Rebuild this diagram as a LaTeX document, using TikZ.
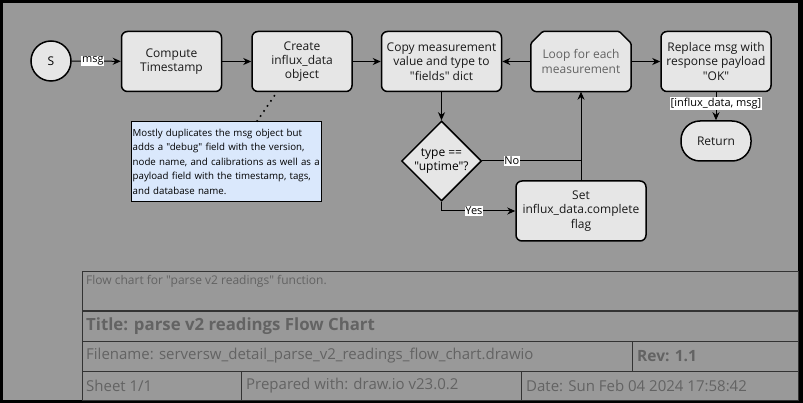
\documentclass[tikz,border=0pt]{standalone}
\usepackage{fontspec}
\newfontfamily\drawfont{Open Sans}
\usepackage{tikz}
\usetikzlibrary{calc,arrows.meta,shapes.geometric}
\definecolor{sheetgray}{HTML}{999999}
\definecolor{boxgray}{HTML}{E6E6E6}
\definecolor{notefill}{HTML}{DAE8FC}
\definecolor{inkgray}{HTML}{636363}
\definecolor{rulegray}{HTML}{333333}
\tikzset{
	proc/.style={draw, line width=1.5pt, fill=boxgray, rounded corners=6pt, minimum width=100pt, minimum height=60pt, align=center, inner sep=2pt, font=\drawfont\fontsize{12}{14.4}\selectfont, text=black!90},
	conn/.style={line width=1pt},
	arr/.style={conn, -{Stealth[length=8pt,width=7pt,inset=2.5pt]}},
	lbl/.style={fill=white, inner sep=0.6pt, font=\drawfont\fontsize{11}{12}\selectfont},
	blocktxt/.style={anchor=west, inner sep=0pt, text=inkgray, font=\drawfont\fontsize{15}{18}\selectfont}
}

\begin{document}
\begin{tikzpicture}[x=1pt, y=-1pt]
		%%%%% START %%%%%
		
		\fill[black] (0, 0) rectangle (803, 403);
		\fill[sheetgray] (3, 3) rectangle (798, 400);
		\useasboundingbox (0, 0) rectangle (803, 403);
		
		\node[circle, draw, line width=1.5pt, fill=boxgray, minimum size=40pt, inner sep=0pt, font=\drawfont\fontsize{12}{14.4}\selectfont] (start) at (51, 61) {S};
		\node[proc] (stamp) at (171.5, 61.5) {Compute\\Timestamp};
		\node[proc] (create) at (302, 61.5) {Create\\influx\_data\\object};
		\node[proc, minimum width=120pt] (copy) at (441.5, 61.5) {Copy measurement\\value and type to\\"fields" dict};
		\node[minimum width=100pt, minimum height=60pt, inner sep=0pt] (loop) at (581, 61.5) {};
		\node[proc, minimum width=110pt] (reply) at (716, 61.5) {Replace msg with\\response payload\\"OK"};
		\node[proc, minimum width=70pt, minimum height=40pt, rounded corners=19pt] (ret) at (716, 141) {Return};
		\node[diamond, draw, line width=1.5pt, fill=boxgray, minimum size=80pt, inner sep=-1pt, align=center, font=\drawfont\fontsize{12}{14.4}\selectfont] (uptime) at (441.5, 161) {type ==\\"uptime"?};
		\node[proc, minimum width=130pt] (setflag) at (581, 211) {Set\\influx\_data.complete\\flag};
		
		% loop limit outline, chamfered on top
		\filldraw[line width=1.5pt, fill=boxgray] ($(loop.north west)+(0, 12)$) [rounded corners=1.5pt] -- ($(loop.north west)+(12, 0)$) -- ($(loop.north east)+(-12, 0)$) -- ($(loop.north east)+(0, 12)$) [rounded corners=6pt] -- (loop.south east) -- (loop.south west) [rounded corners=1.5pt] -- cycle;
		\node[text=inkgray, align=center, font=\drawfont\fontsize{12}{14.4}\selectfont] (looptext) at (loop) {Loop for each\\measurement};
		
		\node[draw, line width=0.8pt, fill=notefill, minimum width=190pt, minimum height=80pt, text width=188pt, inner sep=1pt, align=left, font=\drawfont\fontsize{9.7}{14.4}\selectfont] (note) at (226.7, 161.7) {Mostly duplicates the msg object but\\adds a "debug" field with the version,\\node name, and calibrations as well as a\\payload field with the timestamp, tags,\\and database name.};
		\coordinate (notetip) at (256.7, 121.7);
		\coordinate (createfoot) at (277, 92);
		\draw[line width=1.6pt, dash pattern=on 1.6pt off 4.5pt] (notetip) -- (createfoot);
		
		\draw[arr] (start) -- node[lbl, pos=0.43] {msg} (stamp);
		\draw[arr] (stamp) -- (create);
		\draw[arr] (create) -- (copy);
		\draw[arr] (loop.west) -- (copy);
		\draw[arr] (loop.east) -- (reply);
		\draw[arr] (copy) -- (uptime);
		\draw[conn] (uptime.east) -- node[lbl, pos=0.3] {No} (uptime.east -| setflag.north);
		\draw[arr] (uptime.south) |- node[lbl, pos=0.72] {Yes} (setflag.west);
		\draw[arr] (setflag.north) -- (loop.south);
		\draw[arr] (reply) -- node[lbl, pos=0.4] {[influx\_data, msg]} (ret);
		
		% title block
		\draw[rulegray, line width=1pt] (82, 272) rectangle (798, 400);
		\draw[rulegray, line width=1pt] (82, 311) -- (798, 311);
		\draw[rulegray, line width=1pt] (82, 341) -- (798, 341);
		\draw[rulegray, line width=1pt] (82, 371) -- (798, 371);
		\draw[rulegray, line width=1pt] (632, 341) -- (632, 371);
		\draw[rulegray, line width=1pt] (241, 371) -- (241, 400);
		\draw[rulegray, line width=1pt] (521, 371) -- (521, 400);
		
		\node[blocktxt, font=\drawfont\fontsize{12}{14}\selectfont] (caption) at (86, 281) {Flow chart for "parse v2 readings" function.};
		\node[blocktxt, font=\drawfont\bfseries\fontsize{16.8}{19}\selectfont] (title) at (86, 326) {Title: parse v2 readings Flow Chart};
		\node[blocktxt] (fname) at (86, 356) {Filename: serversw\_detail\_parse\_v2\_readings\_flow\_chart.drawio};
		\node[blocktxt, font=\drawfont\bfseries\fontsize{15.5}{18}\selectfont] (rev) at (637, 356) {Rev: 1.1};
		\node[blocktxt] (sheet) at (86, 386) {Sheet 1/1};
		\node[blocktxt] (prep) at (246, 386) {Prepared with: draw.io v23.0.2};
		\node[blocktxt] (date) at (526, 386) {Date: Sun Feb 04 2024 17:58:42};
		
		%%%%% END %%%%%
	\end{tikzpicture}
\end{document}
